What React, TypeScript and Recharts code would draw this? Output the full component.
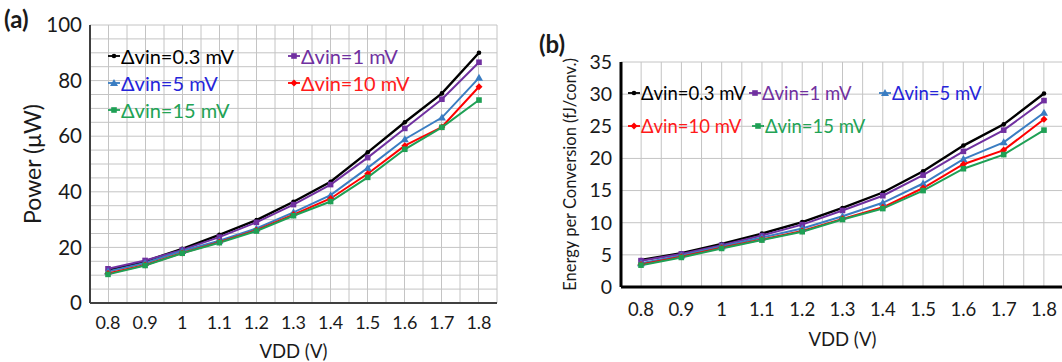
import { LineChart, Line, XAxis, YAxis, CartesianGrid } from "recharts";

const vdd = ["0.8", "0.9", "1", "1.1", "1.2", "1.3", "1.4", "1.5", "1.6", "1.7", "1.8"];
const seriesNames = ["Δvin=0.3 mV", "Δvin=1 mV", "Δvin=5 mV", "Δvin=10 mV", "Δvin=15 mV"];

// (a) Power in µW
const power03 = [11.9, 15.0, 19.5, 24.5, 29.8, 36.4, 43.6, 54.2, 65.0, 75.4, 90.0];
const power1 = [12.3, 15.3, 19.1, 23.7, 29.0, 35.4, 42.6, 52.3, 62.8, 73.3, 86.6];
const power5 = [11.3, 14.4, 18.7, 22.4, 26.8, 32.6, 38.8, 48.6, 58.9, 66.7, 81.0];
const power10 = [10.6, 13.7, 18.0, 21.9, 26.2, 31.8, 37.6, 46.5, 56.6, 63.3, 77.8];
const power15 = [10.3, 13.5, 17.9, 21.7, 25.9, 31.4, 36.5, 45.2, 55.3, 63.2, 73.0];

// (b) Energy per conversion in fJ/conv.
const energy03 = [4.2, 5.25, 6.7, 8.3, 10.1, 12.3, 14.7, 18.0, 22.0, 25.3, 30.1];
const energy1 = [4.1, 5.15, 6.5, 8.0, 9.7, 11.9, 14.2, 17.4, 21.1, 24.4, 29.0];
const energy5 = [3.7, 4.9, 6.3, 7.7, 9.1, 11.0, 13.1, 16.1, 19.9, 22.5, 27.1];
const energy10 = [3.5, 4.7, 6.1, 7.4, 8.7, 10.6, 12.4, 15.4, 19.1, 21.3, 26.1];
const energy15 = [3.4, 4.6, 6.0, 7.3, 8.6, 10.5, 12.2, 15.0, 18.4, 20.6, 24.4];

const powerTicks = [0, 20, 40, 60, 80, 100];
const energyTicks = [0, 5, 10, 15, 20, 25, 30, 35];

const lineColors = ["#000000", "#7030A0", "#3A7DC2", "#FF0000", "#1FA055"];
const textColors = ["#000000", "#7030A0", "#2525D9", "#FF1A1A", "#22A355"];
const shapes = ["dot", "square", "triangle", "diamond", "square"];
const keys = ["s0", "s1", "s2", "s3", "s4"];

const powerData = vdd.map((v, i) => ({
  vdd: v, s0: power03[i], s1: power1[i], s2: power5[i], s3: power10[i], s4: power15[i],
}));
const energyData = vdd.map((v, i) => ({
  vdd: v, s0: energy03[i], s1: energy1[i], s2: energy5[i], s3: energy10[i], s4: energy15[i],
}));

const FONT = "Lato, 'Open Sans', sans-serif";
const TEXT = "#1a1a1a";

function Marker({ shape, x, y, color }: { shape: string; x: number; y: number; color: string }) {
  if (shape === "dot") return <circle cx={x} cy={y} r={2.3} fill={color} />;
  if (shape === "square") return <rect x={x - 2.8} y={y - 2.8} width={5.6} height={5.6} fill={color} />;
  if (shape === "triangle")
    return <polygon points={`${x},${y - 4} ${x + 4},${y + 3} ${x - 4},${y + 3}`} fill={color} />;
  return <polygon points={`${x},${y - 3.5} ${x + 3.5},${y} ${x},${y + 3.5} ${x - 3.5},${y}`} fill={color} />;
}

const steps = (start: number, size: number, n: number) =>
  Array.from({ length: n + 1 }, (_, i) => start + (i * size) / n);

function Legend({ items, fontSize }: { items: { i: number; x: number; y: number }[]; fontSize: number }) {
  return (
    <>
      {items.map(({ i, x, y }) => (
        <div
          key={i}
          style={{
            position: "absolute", left: x, top: y - 12, height: 24,
            display: "flex", alignItems: "center", whiteSpace: "nowrap",
            fontSize, color: textColors[i], fontFamily: FONT,
          }}
        >
          <svg width={12} height={10} style={{ marginRight: 1 }}>
            <line x1={0} y1={5} x2={12} y2={5} stroke={lineColors[i]} strokeWidth={1.8} />
            <Marker shape={shapes[i]} x={6} y={5} color={lineColors[i]} />
          </svg>
          {seriesNames[i]}
        </div>
      ))}
    </>
  );
}

function renderLines() {
  return keys.map((k, i) => (
    <Line
      key={k}
      dataKey={k}
      stroke={lineColors[i]}
      strokeWidth={i === 0 ? 2.4 : 2}
      isAnimationActive={false}
      dot={(p: any) => (
        <Marker key={`${k}-${p.index}`} shape={shapes[i]} x={p.cx} y={p.cy} color={lineColors[i]} />
      )}
    />
  ));
}

export default function App() {
  const leftBorder = { stroke: "#404040", strokeWidth: 2 };
  const rightBorder = { stroke: "#000000", strokeWidth: 3 };

  return (
    <div style={{ position: "absolute", left: 0, top: 0, width: 1062, height: 362, overflow: "hidden", background: "#fff" }}>
      <div style={{ position: "absolute", left: 0, top: 0 }}>
        <LineChart width={530} height={362} data={powerData} margin={{ top: 25, right: 33, bottom: 0, left: 0 }}>
          <CartesianGrid
            stroke="#c4c4c4"
            verticalCoordinatesGenerator={({ offset }: any) => steps(offset.left, offset.width, 22)}
            horizontalCoordinatesGenerator={({ offset }: any) => steps(offset.top, offset.height, 20)}
          />
          <XAxis
            dataKey="vdd"
            interval={0}
            padding={{ left: 18, right: 18 }}
            height={59}
            tickLine={false}
            tickSize={0}
            tickMargin={13}
            axisLine={leftBorder}
            tick={{ fontSize: 18, fill: TEXT, fontFamily: FONT }}
            label={{ value: "VDD (V)", position: "insideBottom", offset: 4, style: { fontSize: 18.5, fill: TEXT, fontFamily: FONT } }}
          />
          <XAxis xAxisId="top" orientation="top" dataKey="vdd" height={0} tick={false} tickLine={false} axisLine={leftBorder} />
          <YAxis
            domain={[0, 100]}
            ticks={powerTicks}
            width={90}
            tickLine={false}
            tickSize={0}
            tickMargin={8}
            axisLine={leftBorder}
            tick={{ fontSize: 20.5, fill: TEXT, fontFamily: FONT }}
            label={{ value: "Power (μW)", angle: -90, position: "insideLeft", offset: 33, style: { textAnchor: "middle", fontSize: 23, fill: TEXT, fontFamily: FONT } }}
          />
          <YAxis yAxisId="right" orientation="right" domain={[0, 100]} width={0} tick={false} tickLine={false} axisLine={leftBorder} />
          {renderLines()}
        </LineChart>
      </div>

      <div style={{ position: "absolute", left: 530, top: 0 }}>
        <LineChart width={540} height={362} data={energyData} margin={{ top: 62, right: 6, bottom: 0, left: 0 }}>
          <CartesianGrid
            stroke="#c4c4c4"
            verticalCoordinatesGenerator={({ offset }: any) => steps(offset.left, offset.width, 22)}
          />
          <XAxis
            dataKey="vdd"
            interval={0}
            padding={{ left: 20, right: 20 }}
            height={75}
            tickLine={false}
            tickSize={0}
            tickMargin={16}
            axisLine={rightBorder}
            tick={{ fontSize: 18.5, fill: TEXT, fontFamily: FONT }}
            label={{ value: "VDD (V)", position: "insideBottom", offset: 16, style: { fontSize: 18.5, fill: TEXT, fontFamily: FONT } }}
          />
          <XAxis xAxisId="top" orientation="top" dataKey="vdd" height={0} tick={false} tickLine={false} axisLine={rightBorder} />
          <YAxis
            domain={[0, 35]}
            ticks={energyTicks}
            width={91}
            tickLine={false}
            tickSize={0}
            tickMargin={9}
            axisLine={rightBorder}
            tick={{ fontSize: 19.5, fill: TEXT, fontFamily: FONT }}
            label={{ value: "Energy per Conversion (fJ/conv.)", angle: -90, position: "insideLeft", offset: 40, style: { textAnchor: "middle", fontSize: 16.5, fill: TEXT, fontFamily: FONT } }}
          />
          {renderLines()}
        </LineChart>
      </div>

      <Legend
        fontSize={20}
        items={[
          { i: 0, x: 108, y: 56 },
          { i: 1, x: 288, y: 56 },
          { i: 2, x: 108, y: 83 },
          { i: 3, x: 288, y: 83 },
          { i: 4, x: 108, y: 110 },
        ]}
      />
      <Legend
        fontSize={18.5}
        items={[
          { i: 0, x: 628, y: 93 },
          { i: 1, x: 749, y: 93 },
          { i: 2, x: 879, y: 93 },
          { i: 3, x: 628, y: 126 },
          { i: 4, x: 752, y: 126 },
        ]}
      />

      <div style={{ position: "absolute", left: 4, top: 5, zIndex: 2, fontSize: 24, fontWeight: 700, fontFamily: FONT, color: TEXT, lineHeight: "28px" }}>
        (a)
      </div>
      <div style={{ position: "absolute", left: 539, top: 30, zIndex: 2, fontSize: 24, fontWeight: 700, fontFamily: FONT, color: TEXT, lineHeight: "28px" }}>
        (b)
      </div>
    </div>
  );
}
